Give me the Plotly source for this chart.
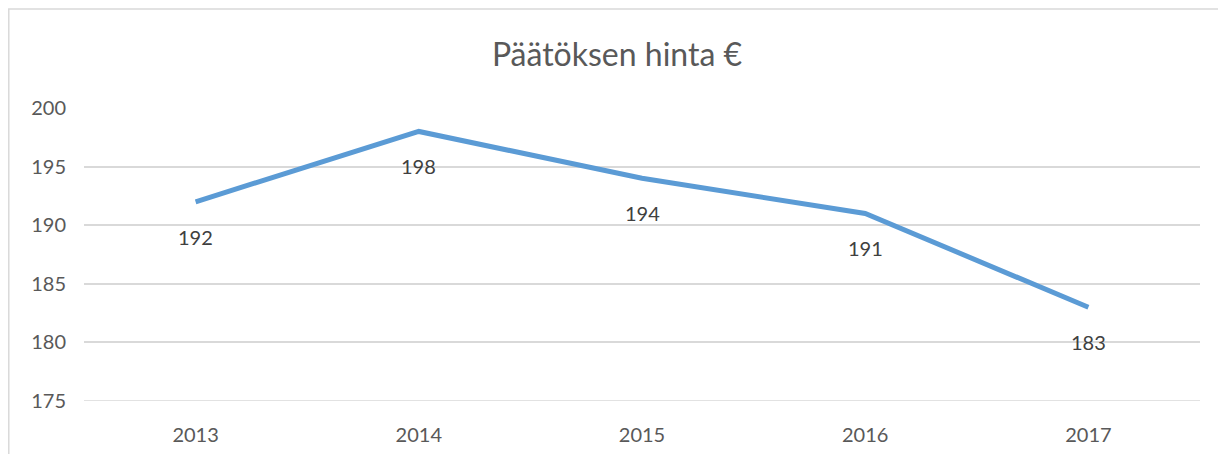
import plotly.graph_objects as go

years = ["2013", "2014", "2015", "2016", "2017"]
values = [192, 198, 194, 191, 183]
y_ticks = [175, 180, 185, 190, 195, 200]
title_text = "Päätöksen hinta €"

FONT = "Lato, Open Sans, sans-serif"
TXT = "#595959"
GRID = "#D9D9D9"

W, H = 1218, 446  # page body has an 8px margin

fig = go.Figure()
fig.add_trace(go.Scatter(
    x=years, y=values, mode="lines",
    line=dict(color="#5B9BD5", width=5),
    hoverinfo="skip", showlegend=False,
))

for i, v in enumerate(values):
    fig.add_annotation(x=i, y=v, xref="x", yref="y", text=str(v),
                       showarrow=False, yshift=-35,
                       font=dict(family=FONT, size=20, color="#404040"))

# chart area frame (top and left edges visible)
fig.add_shape(type="rect", xref="paper", yref="paper",
              x0=-0.0674, x1=1.2, y0=-0.5, y1=1.3379,
              line=dict(color=GRID, width=1.5), fillcolor="rgba(0,0,0,0)",
              layer="below")
# bottom gridline (plotly drops gridlines lying on the plot edge)
fig.add_shape(type="line", xref="paper", yref="y", x0=0, x1=1,
              y0=y_ticks[0], y1=y_ticks[0],
              line=dict(color=GRID, width=1.5), layer="below")

fig.update_layout(
    width=W, height=H,
    margin=dict(l=76, r=26, t=100, b=53, autoexpand=False),
    paper_bgcolor="white", plot_bgcolor="white",
    title=dict(text=title_text, x=0.5, xanchor="center", xref="container",
               y=1 - 47 / H, yref="container", yanchor="middle",
               font=dict(family=FONT, size=32, color=TXT)),
    font=dict(family=FONT, size=20, color=TXT),
    xaxis=dict(type="category", range=[-0.5, 4.5], showgrid=False,
               showline=False, zeroline=False, ticks="outside", ticklen=0,
               automargin=False,
               ticklabelstandoff=16, tickfont=dict(size=20, color=TXT)),
    yaxis=dict(range=[175, 200], tickvals=y_ticks, showgrid=True,
               gridcolor=GRID, gridwidth=1.5, zeroline=False, showline=False,
               automargin=False,
               ticks="outside", ticklen=0, ticklabelstandoff=13,
               tickfont=dict(size=20, color=TXT)),
)

fig.write_html("out.html")
